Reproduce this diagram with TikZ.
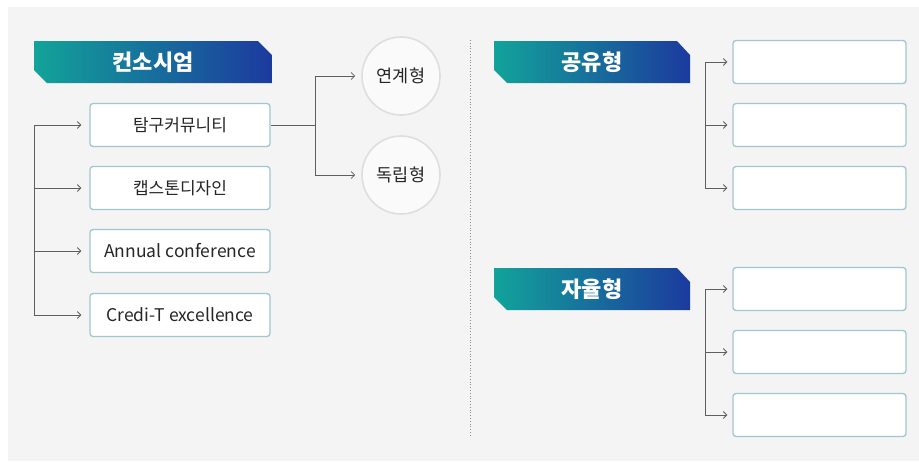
\documentclass[tikz,border=0pt]{standalone}
\usepackage{fontspec}
\setmainfont{Noto Sans CJK KR}
\usetikzlibrary{arrows.meta}
\definecolor{bg}{HTML}{F4F4F5}
\definecolor{teal1}{HTML}{12A39A}
\definecolor{blue1}{HTML}{1C3A9E}
\definecolor{boxline}{HTML}{A2C6D0}
\definecolor{lineg}{HTML}{5E5E5E}
\definecolor{txt}{HTML}{262626}
\tikzset{
  x=1pt, y=-1pt,
  itembox/.style={draw=boxline, line width=1.3pt, fill=white, rounded corners=3pt,
    minimum width=180pt, minimum height=43pt, inner sep=0pt, text=txt,
    font=\fontsize{17}{19}\selectfont},
  emptybox/.style={itembox, minimum width=173pt},
  roundnode/.style={circle, draw=black!13, line width=1.6pt, fill=white!98!black,
    minimum size=78pt, inner sep=0pt, text=txt, font=\fontsize{17.5}{19}\selectfont},
  conn/.style={draw=lineg, line width=0.8pt},
  arr/.style={conn, -{Straight Barb[length=3.5pt,width=7pt]}},
  bannertext/.style={text=white, font=\bfseries\fontsize{22}{24}\selectfont, inner sep=0pt},
}
\begin{document}
\begin{tikzpicture}
\useasboundingbox (0,0) rectangle (919,461);
\fill[white] (0,0) rectangle (919,461);
\fill[bg] (8,7) rectangle (919,461);

% banners
\shade[left color=teal1, right color=blue1]
  (34,41) -- (258,41) -- (272,55) -- (272,83) -- (47,83) -- (34,70) -- cycle;
\node[bannertext] (b1) at (153,62) {컨소시엄};
\shade[left color=teal1, right color=blue1]
  (494,41) -- (677,41) -- (690,55) -- (690,83) -- (507,83) -- (494,70) -- cycle;
\node[bannertext] (b2) at (592,62) {공유형};
\shade[left color=teal1, right color=blue1]
  (494,268) -- (677,268) -- (690,282) -- (690,310) -- (507,310) -- (494,297) -- cycle;
\node[bannertext] (b3) at (592,289) {자율형};

% left boxes
\node[itembox] (l1) at (180,125) {탐구커뮤니티};
\node[itembox] (l2) at (180,188) {캡스톤디자인};
\node[itembox, font=\fontsize{17.5}{19}\selectfont] (l3) at (180,251) {Annual conference};
\node[itembox, font=\fontsize{17.5}{19}\selectfont] (l4) at (180,315) {Credi-T excellence};

\coordinate (lb1) at (34,125);
\coordinate (lb2) at (34,188);
\coordinate (lb3) at (34,251);
\coordinate (lb4) at (34,315);
\draw[conn] (lb1) -- (lb4);
\draw[arr] (lb1) -- ([xshift=-8pt]l1.west);
\draw[arr] (lb2) -- ([xshift=-8pt]l2.west);
\draw[arr] (lb3) -- ([xshift=-8pt]l3.west);
\draw[arr] (lb4) -- ([xshift=-8pt]l4.west);

% circles
\node[roundnode] (c1) at (401,76) {연계형};
\node[roundnode] (c2) at (401,175) {독립형};
\coordinate (cj) at (315,125);
\coordinate (cj1) at (315,76);
\coordinate (cj2) at (315,175);
\draw[conn] (l1.east) -- (cj);
\draw[conn] (cj1) -- (cj2);
\draw[arr] (cj1) -- ([xshift=-6pt]c1.west);
\draw[arr] (cj2) -- ([xshift=-6pt]c2.west);

% divider
\coordinate (d1) at (470,40);
\coordinate (d2) at (470,437);
\draw[black!45, line width=0.8pt, dotted] (d1) -- (d2);

% right upper
\node[emptybox] (r1) at (819.5,62) {};
\node[emptybox] (r2) at (819.5,125) {};
\node[emptybox] (r3) at (819.5,188) {};
\coordinate (ra1) at (705,62);
\coordinate (ra2) at (705,125);
\coordinate (ra3) at (705,188);
\draw[conn] (ra1) -- (ra3);
\draw[arr] (ra1) -- ([xshift=-5pt]r1.west);
\draw[arr] (ra2) -- ([xshift=-5pt]r2.west);
\draw[arr] (ra3) -- ([xshift=-5pt]r3.west);

% right lower
\node[emptybox] (s1) at (819.5,289) {};
\node[emptybox] (s2) at (819.5,352) {};
\node[emptybox] (s3) at (819.5,415) {};
\coordinate (sa1) at (705,289);
\coordinate (sa2) at (705,352);
\coordinate (sa3) at (705,415);
\draw[conn] (sa1) -- (sa3);
\draw[arr] (sa1) -- ([xshift=-5pt]s1.west);
\draw[arr] (sa2) -- ([xshift=-5pt]s2.west);
\draw[arr] (sa3) -- ([xshift=-5pt]s3.west);
\end{tikzpicture}
\end{document}
